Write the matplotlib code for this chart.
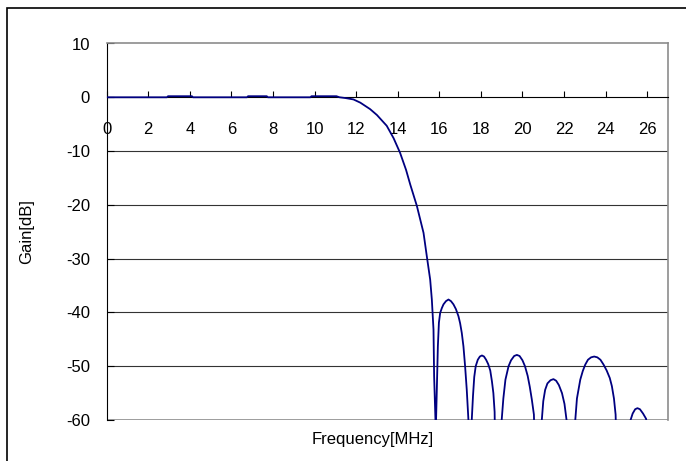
import matplotlib.pyplot as plt
from matplotlib.patches import Rectangle

# frequency response (values below -60 are off-scale)
freq = [0.0, 2.9, 2.95, 4.1, 4.15, 6.75, 6.8, 7.7, 7.75, 9.8, 9.85, 11.05, 11.2,
        11.5, 11.87, 12.2, 12.67, 13.0, 13.47, 13.8, 14.11, 14.4, 14.6, 14.92,
        15.24, 15.4, 15.56, 15.64, 15.72, 15.75, 15.83,
        15.88, 15.93, 15.98, 16.04, 16.12, 16.2, 16.32, 16.44, 16.56, 16.68, 16.8,
        16.92, 17.0, 17.08, 17.16, 17.24, 17.32, 17.4, 17.46,
        17.52, 17.56, 17.62, 17.68, 17.75, 17.85, 17.95, 18.05, 18.15, 18.25, 18.35,
        18.45, 18.53, 18.6, 18.66, 18.7,
        18.95, 19.0, 19.08, 19.18, 19.33, 19.45, 19.6, 19.73, 19.86, 20.0, 20.12,
        20.25, 20.35, 20.45, 20.55, 20.62,
        20.88, 20.93, 21.0, 21.09, 21.2, 21.35, 21.49, 21.62, 21.75, 21.9, 22.02,
        22.12, 22.18,
        22.48, 22.54, 22.62, 22.78, 22.9, 23.02, 23.15, 23.3, 23.45, 23.6, 23.75,
        23.9, 24.05, 24.2, 24.3, 24.4, 24.48, 24.55,
        25.15, 25.2, 25.3, 25.42, 25.53, 25.65, 25.8, 25.95, 26.0, 27.0]
gain = [0.0, 0.0, 0.2, 0.2, 0.0, 0.0, 0.2, 0.2, 0.0, 0.0, 0.2, 0.2, 0.0,
        -0.15, -0.4, -1.0, -2.2, -3.3, -5.3, -7.6, -10.3, -13.5, -16.2, -20.2,
        -25.2, -29.6, -33.9, -37.6, -43.2, -51.9, -62.0,
        -54.3, -46.3, -41.9, -40.1, -39.2, -38.5, -37.9, -37.6, -37.9, -38.5, -39.4,
        -40.7, -42.0, -43.8, -46.3, -50.0, -54.4, -60.0, -70.0,
        -70.0, -60.0, -55.5, -52.0, -50.0, -48.8, -48.2, -48.0, -48.2, -48.8, -49.6,
        -50.8, -52.8, -55.0, -58.5, -70.0,
        -70.0, -60.0, -56.0, -52.5, -50.0, -48.9, -48.1, -47.9, -48.1, -48.9, -50.0,
        -51.8, -53.8, -56.2, -59.0, -70.0,
        -70.0, -60.0, -56.5, -54.4, -53.2, -52.6, -52.4, -52.7, -53.5, -55.0, -57.0,
        -60.0, -70.0,
        -70.0, -60.0, -56.0, -52.5, -50.9, -49.7, -48.8, -48.35, -48.2, -48.35, -48.8,
        -49.7, -50.8, -52.2, -53.7, -56.0, -59.0, -70.0,
        -70.0, -60.0, -58.8, -58.0, -57.8, -58.0, -58.8, -59.8, -70.0, -70.0]

x_ticks = list(range(0, 27, 2))
y_ticks = [10, 0, -10, -20, -30, -40, -50, -60]

plt.rcParams['font.family'] = ['Liberation Sans', 'DejaVu Sans']
plt.rcParams['axes.unicode_minus'] = False

fig = plt.figure(figsize=(6.86, 4.61), dpi=100)
# outer chart border (only top and left fall inside the image)
fig.patches.append(Rectangle((7 / 686, -0.1), 1.2, 1 - 8 / 461 + 0.1,
                             transform=fig.transFigure, fill=False,
                             edgecolor='black', linewidth=1.2))

ax = fig.add_axes([106.7 / 686, 1 - 420 / 461, (668 - 106.7) / 686, (420 - 43.5) / 461])
ax.set_xlim(0, 27)
ax.set_ylim(-60, 10)

for y in y_ticks[2:-1]:
    ax.axhline(y, color='#333333', linewidth=0.8, zorder=1)
ax.axhline(-60, color='#8c8c8c', linewidth=1.2, zorder=1)

ax.plot(freq, gain, color='#000080', linewidth=1.3, zorder=3)

ax.spines['bottom'].set_position(('data', 0))
ax.spines['bottom'].set_color('black')
ax.spines['bottom'].set_linewidth(0.8)
ax.spines['left'].set_color('black')
ax.spines['left'].set_linewidth(0.8)
for side in ['top', 'right']:
    ax.spines[side].set_color('#8c8c8c')
    ax.spines[side].set_linewidth(1.2)

ax.set_xticks(x_ticks)
ax.set_yticks(y_ticks)
ax.tick_params(axis='x', direction='in', length=4, width=0.8, pad=18, labelsize=12)
ax.tick_params(axis='y', direction='in', length=5, width=0.8, pad=12, labelsize=12)

ax.set_xlabel('Frequency[MHz]', fontsize=12)
ax.set_ylabel('Gain[dB]', fontsize=12)
ax.xaxis.set_label_coords(0.4736, -0.032)
ax.yaxis.set_label_coords(-0.1295, 0.5)

fig.savefig('out.png', dpi=100)
